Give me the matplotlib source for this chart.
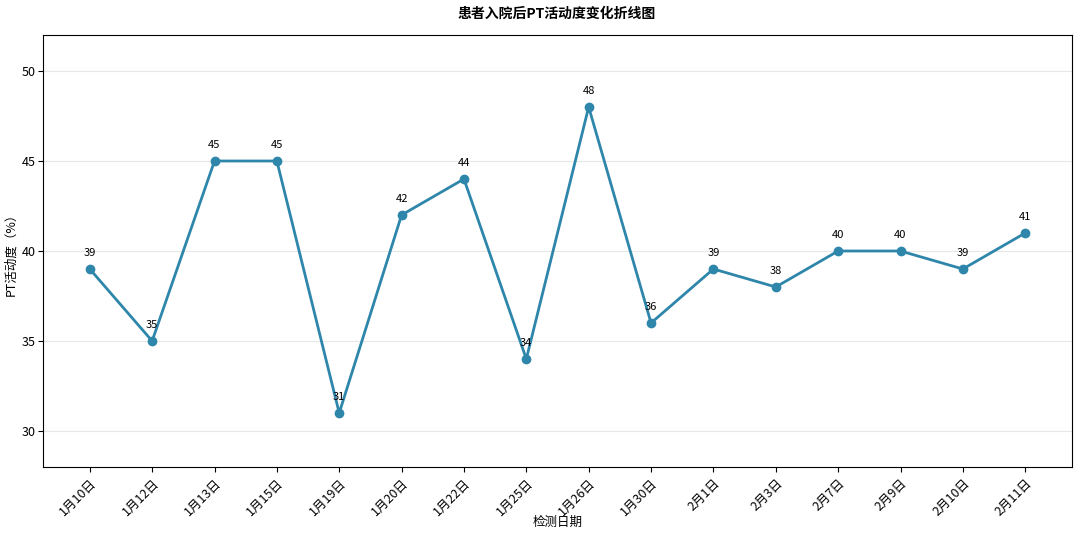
import matplotlib
matplotlib.use("Agg")
import matplotlib.pyplot as plt

plt.rcParams['font.family'] = ['Noto Sans CJK SC', 'DejaVu Sans']
plt.rcParams['axes.unicode_minus'] = False

dates = ["1月10日", "1月12日", "1月13日", "1月15日", "1月19日", "1月20日", "1月22日", "1月25日",
         "1月26日", "1月30日", "2月1日", "2月3日", "2月7日", "2月9日", "2月10日", "2月11日"]
pt_values = [39, 35, 45, 45, 31, 42, 44, 34, 48, 36, 39, 38, 40, 40, 39, 41]

fig = plt.figure(figsize=(10.8, 5.36), dpi=100)
ax = fig.add_axes([43/1080, 1 - 467/536, (1072 - 43)/1080, (467 - 35)/536])

x = list(range(len(dates)))
ax.plot(x, pt_values, color='#2E86AB', linewidth=2, marker='o', markersize=6)
for xi, v in zip(x, pt_values):
    ax.annotate(str(v), (xi, v), textcoords='offset points', xytext=(0, 8),
                ha='center', va='bottom', fontsize=8)

ax.set_ylim(28, 52)
ax.set_yticks([30, 35, 40, 45, 50])
ax.set_xticks(x)
ax.set_xticklabels(dates, rotation=45, ha='right', rotation_mode='anchor', fontsize=9)
ax.tick_params(axis='y', labelsize=9, pad=2)
ax.grid(axis='y', alpha=0.3)
ax.set_axisbelow(True)
ax.set_xlabel("检测日期", fontsize=9, labelpad=-2)
ax.set_ylabel("PT活动度（%）", fontsize=9, labelpad=3)
fig.text(557/1080, 1 - 14/536, "患者入院后PT活动度变化折线图", fontsize=10,
         ha='center', va='center', fontweight='bold')

fig.savefig("out.png", dpi=100)
